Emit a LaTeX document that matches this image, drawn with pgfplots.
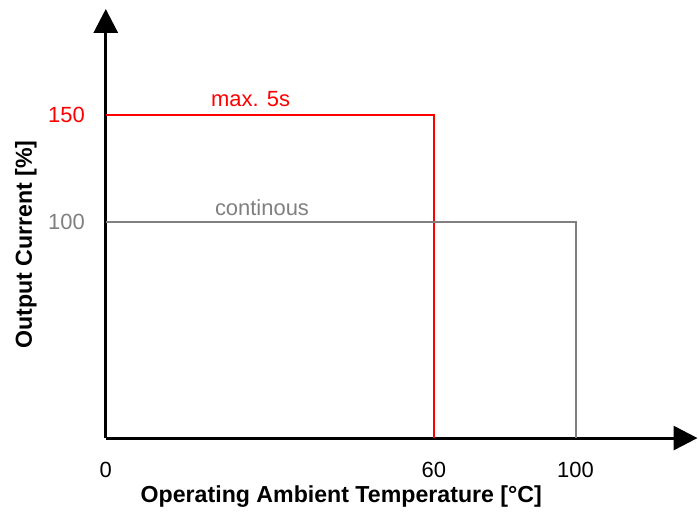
\documentclass[border=0pt]{standalone}
\usepackage{fontspec}
\setmainfont{Liberation Sans}
\usepackage{pgfplots}
\pgfplotsset{compat=1.18}
\usetikzlibrary{arrows.meta}
\definecolor{lgray}{RGB}{128,128,128}
\definecolor{lred}{RGB}{255,0,0}
\begin{document}
\begin{tikzpicture}
\begin{axis}[
    scale only axis,
    width=296.5pt, height=215pt,
    xmin=0, xmax=108.2,
    ymin=0, ymax=199,
    axis lines=left,
    axis line style={line width=1.5pt, black, -{Triangle[length=12pt,width=12pt]}},
    enlargelimits=false,
    clip=false,
    % schematic x axis: ticks placed where the picture puts them
    xtick={0,60,85.9},
    xticklabels={0,60,100},
    ytick={100,150},
    yticklabels={{\color{lgray}100},{\color{lred}150}},
    major tick length=0pt,
    xticklabel style={font=\fontsize{11}{13}\selectfont, yshift=-8.5pt},
    yticklabel style={font=\fontsize{11}{13}\selectfont, xshift=-7pt},
    /pgf/number format/assume math mode=true,
]
\addplot[lred, line width=1pt] coordinates {(0,150) (60,150) (60,0)};
\addplot[lgray, line width=1pt] coordinates {(0,100) (85.9,100) (85.9,0)};

\node[anchor=base west, text=lred, inner sep=0pt, font=\fontsize{11}{13}\selectfont] at (axis cs:19.2,153.7) {max. 5s};
\node[anchor=base west, text=lgray, inner sep=0pt, font=\fontsize{11}{13}\selectfont] at (axis cs:19.9,103.4) {continous};

\node[font=\fontsize{11.6}{13}\selectfont\bfseries, anchor=center] at ([yshift=-29.5pt]rel axis cs:0.398,0) {Operating Ambient Temperature [°C]};
\node[font=\fontsize{11.6}{13}\selectfont\bfseries, anchor=center, rotate=90] at ([xshift=-40pt]rel axis cs:0,0.451) {Output Current [\%]};

\path ([xshift=-53pt,yshift=-37pt]rel axis cs:0,0);
\path ([yshift=4.5pt]rel axis cs:1,1);
\end{axis}
\end{tikzpicture}
\end{document}
